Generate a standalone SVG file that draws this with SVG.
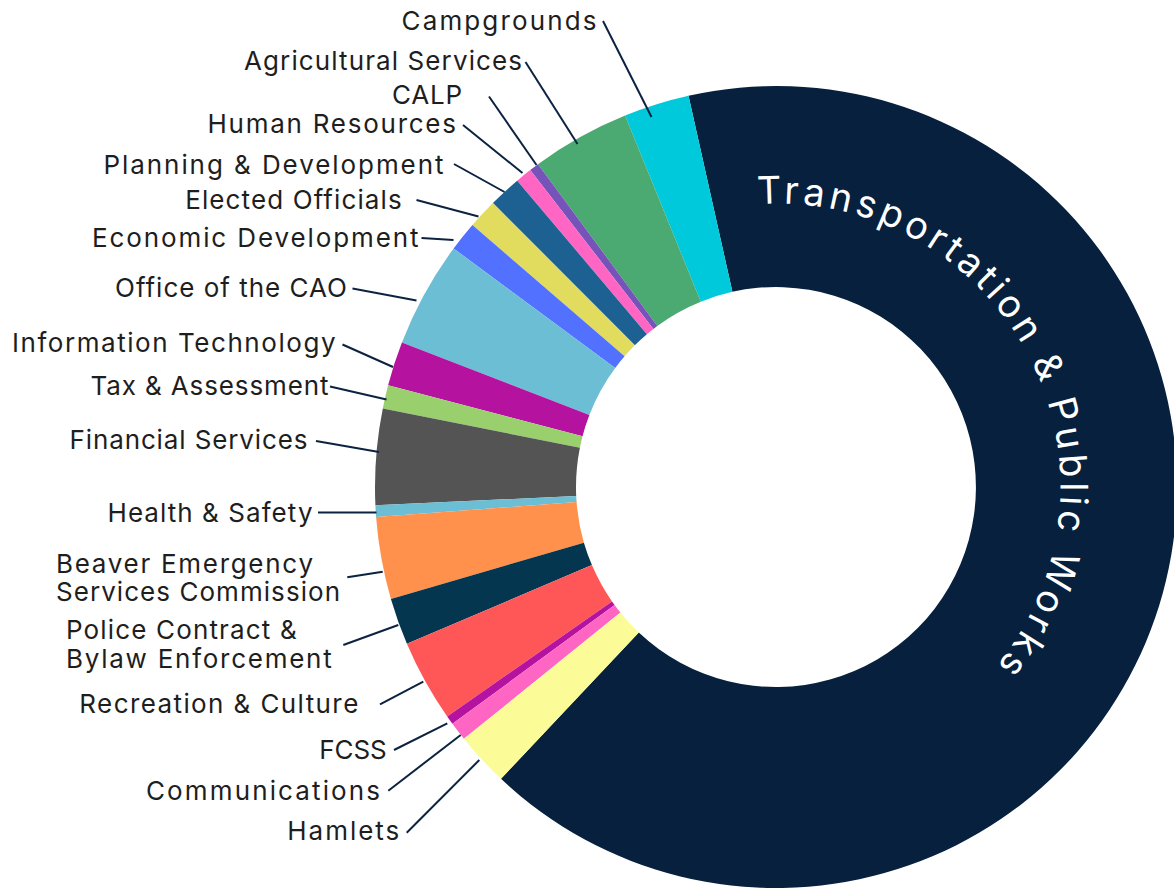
<svg xmlns="http://www.w3.org/2000/svg" width="1174" height="888" viewBox="0 0 1174 888">
<style>
.lbl{font-family:"Inter","Liberation Sans",sans-serif;font-size:26px;fill:#1E1E1E}
.end{text-anchor:end}
.ld{stroke:#0B2341;stroke-width:2;fill:none}
.big{font-family:"Inter","Liberation Sans",sans-serif;font-size:38px;fill:#FFFFFF}
</style>
<defs>
<path id="arcT" d="M757.4 204.3 A283 283 0 0 1 991.9 671.3"/>
</defs>
<rect width="1174" height="888" fill="#FFFFFF"/>
<g id="slices">
<g id="transportation"><path fill="#06203D" d="M501.0 778.8 A401 401 0 1 0 688.5 95.7 L732.4 291.8 A200 200 0 1 1 638.8 632.6 Z"/>
<text class="big"><textPath href="#arcT" textLength="658" lengthAdjust="spacing">Transportation &amp; Public Works</textPath></text></g>
<g id="campgrounds"><path fill="#00C9DC" d="M688.5 95.7 A401 401 0 0 0 625.1 115.5 L700.8 301.7 A200 200 0 0 1 732.4 291.8 Z"/></g>
<g id="agricultural"><path fill="#4AAA72" d="M625.1 115.5 A401 401 0 0 0 538.0 164.2 L657.3 326.0 A200 200 0 0 1 700.8 301.7 Z"/></g>
<g id="calp"><path fill="#7553B8" d="M538.0 164.2 A401 401 0 0 0 530.2 170.1 L653.4 329.0 A200 200 0 0 1 657.3 326.0 Z"/></g>
<g id="hr"><path fill="#FF66C4" d="M530.2 170.1 A401 401 0 0 0 517.2 180.7 L646.9 334.2 A200 200 0 0 1 653.4 329.0 Z"/></g>
<g id="planning"><path fill="#1D6192" d="M517.2 180.7 A401 401 0 0 0 492.9 203.0 L634.8 345.3 A200 200 0 0 1 646.9 334.2 Z"/></g>
<g id="elected"><path fill="#E2DC5E" d="M492.9 203.0 A401 401 0 0 0 472.4 225.0 L624.6 356.3 A200 200 0 0 1 634.8 345.3 Z"/></g>
<g id="economic"><path fill="#5271FF" d="M472.4 225.0 A401 401 0 0 0 453.6 248.5 L615.2 368.0 A200 200 0 0 1 624.6 356.3 Z"/></g>
<g id="cao"><path fill="#6CBED4" d="M453.6 248.5 A401 401 0 0 0 401.9 342.6 L589.4 415.0 A200 200 0 0 1 615.2 368.0 Z"/></g>
<g id="it"><path fill="#B5139F" d="M401.9 342.6 A401 401 0 0 0 388.1 385.2 L582.5 436.2 A200 200 0 0 1 589.4 415.0 Z"/></g>
<g id="tax"><path fill="#99CF6C" d="M388.1 385.2 A401 401 0 0 0 382.8 408.4 L579.9 447.8 A200 200 0 0 1 582.5 436.2 Z"/></g>
<g id="financial"><path fill="#545454" d="M382.8 408.4 A401 401 0 0 0 375.4 505.2 L576.2 496.1 A200 200 0 0 1 579.9 447.8 Z"/></g>
<g id="health"><path fill="#6CBED4" d="M375.4 505.2 A401 401 0 0 0 376.1 517.1 L576.6 502.0 A200 200 0 0 1 576.2 496.1 Z"/></g>
<g id="beaver"><path fill="#FF914D" d="M376.1 517.1 A401 401 0 0 0 390.9 598.9 L583.9 542.8 A200 200 0 0 1 576.6 502.0 Z"/></g>
<g id="police"><path fill="#04364F" d="M390.9 598.9 A401 401 0 0 0 406.9 643.7 L591.9 565.1 A200 200 0 0 1 583.9 542.8 Z"/></g>
<g id="recreation"><path fill="#FF5757" d="M406.9 643.7 A401 401 0 0 0 447.2 716.4 L612.0 601.4 A200 200 0 0 1 591.9 565.1 Z"/></g>
<g id="fcss"><path fill="#B5139F" d="M447.2 716.4 A401 401 0 0 0 452.4 723.8 L614.6 605.1 A200 200 0 0 1 612.0 601.4 Z"/></g>
<g id="communications"><path fill="#FF66C4" d="M452.4 723.8 A401 401 0 0 0 463.9 738.8 L620.4 612.6 A200 200 0 0 1 614.6 605.1 Z"/></g>
<g id="hamlets"><path fill="#FBFB98" d="M463.9 738.8 A401 401 0 0 0 501.0 778.8 L638.8 632.6 A200 200 0 0 1 620.4 612.6 Z"/></g>
</g>
<g id="connectors">
<line class="ld" x1="603" y1="21" x2="651.5" y2="117"/>
<line class="ld" x1="525.5" y1="62" x2="577.5" y2="144"/>
<line class="ld" x1="489" y1="96.5" x2="536.5" y2="165"/>
<line class="ld" x1="463" y1="125" x2="522.5" y2="173"/>
<line class="ld" x1="454" y1="164" x2="504.5" y2="192"/>
<line class="ld" x1="416.5" y1="200" x2="478.5" y2="216.5"/>
<line class="ld" x1="421.5" y1="238" x2="453.5" y2="240"/>
<line class="ld" x1="352.5" y1="288.5" x2="416.5" y2="300.5"/>
<line class="ld" x1="342.5" y1="344.5" x2="393" y2="367"/>
<line class="ld" x1="330" y1="386.5" x2="386.5" y2="399.5"/>
<line class="ld" x1="316" y1="441" x2="379" y2="452"/>
<line class="ld" x1="318" y1="512.5" x2="376.5" y2="512.5"/>
<line class="ld" x1="347.3" y1="577.3" x2="382.7" y2="571.7"/>
<line class="ld" x1="343.3" y1="645" x2="398.3" y2="625"/>
<line class="ld" x1="380" y1="704.3" x2="423.3" y2="681.7"/>
<line class="ld" x1="394" y1="750" x2="447.3" y2="723.3"/>
<line class="ld" x1="388.3" y1="790.7" x2="460.7" y2="735"/>
<line class="ld" x1="406.7" y1="832.7" x2="479.3" y2="760"/>
</g>
<g id="labels">
<text id="t-campgrounds" class="lbl end" x="596.5" y="29.5" textLength="195">Campgrounds</text>
<text id="t-agricultural" class="lbl end" x="522" y="69.5" textLength="278">Agricultural Services</text>
<text id="t-calp" class="lbl end" x="462" y="104" textLength="70">CALP</text>
<text id="t-hr" class="lbl end" x="456" y="133" textLength="248.5">Human Resources</text>
<text id="t-planning" class="lbl end" x="443.5" y="173.5" textLength="340">Planning &amp; Development</text>
<text id="t-elected" class="lbl end" x="401.7" y="208.5" textLength="216.5">Elected Officials</text>
<text id="t-economic" class="lbl end" x="418.5" y="247" textLength="326.5">Economic Development</text>
<text id="t-cao" class="lbl end" x="347" y="296.7" textLength="232">Office of the CAO</text>
<text id="t-it" class="lbl end" x="335.5" y="351.7" textLength="323.5">Information Technology</text>
<text id="t-tax" class="lbl end" x="328.5" y="395" textLength="238">Tax &amp; Assessment</text>
<text id="t-financial" class="lbl end" x="307.5" y="449.3" textLength="238">Financial Services</text>
<text id="t-health" class="lbl end" x="312.5" y="521.5" textLength="205">Health &amp; Safety</text>
<text id="t-beaver" class="lbl"><tspan x="56" y="572.7" textLength="257">Beaver Emergency</tspan><tspan x="56" y="601" textLength="284">Services Commission</tspan></text>
<text id="t-police" class="lbl"><tspan x="66" y="639.3" textLength="230.7">Police Contract &amp;</tspan><tspan x="66" y="668.3" textLength="265.7">Bylaw Enforcement</tspan></text>
<text id="t-recreation" class="lbl end" x="358.3" y="713.3" textLength="279">Recreation &amp; Culture</text>
<text id="t-fcss" class="lbl end" x="386.7" y="759" textLength="67.4">FCSS</text>
<text id="t-communications" class="lbl end" x="380" y="800" textLength="234">Communications</text>
<text id="t-hamlets" class="lbl end" x="399.3" y="840" textLength="112">Hamlets</text>
</g>
</svg>
